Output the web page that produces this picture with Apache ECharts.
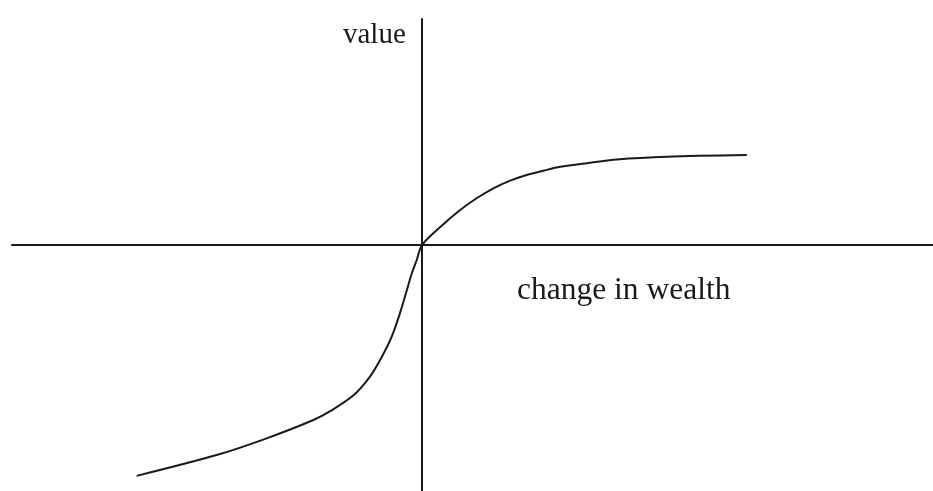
<!DOCTYPE html>
<html>
<head>
<meta charset="utf-8">
<script src="https://cdn.jsdelivr.net/npm/echarts@6/dist/echarts.min.js"></script>
<style>
    html, body { margin: 0; padding: 0; background: #fff; }
    #chart { width: 933px; height: 491px; }
</style>
</head>
<body>
<div id="chart"></div>
<script>
    // change in wealth (x) and value (y)
    var wealthChange = [-69.6, -50.1, -37.9, -26.5, -22.4, -16.8, -12.7, -9.8, -7.4, -5.4, -3.7, -2.5, -1.3, 0,
        5.2, 9.3, 13.3, 17.4, 21.5, 25.5, 29.6, 33.7, 41, 47.5, 59.7, 79.2];
    var valueOf = [-102.1, -92.9, -85.5, -77.4, -73.5, -66.6, -58.2, -49.4, -40.5, -30.2, -19.9, -12.5, -6.6, 0,
        9.2, 15.5, 20.7, 25.1, 28.5, 31, 32.9, 34.6, 36.4, 37.9, 39.1, 39.8];
    var xRange = [-100, 124.6];
    var yRange = [-108.8, 100];
    var xLabel = 'change in wealth';
    var yLabel = 'value';

    var points = wealthChange.map(function (x, i) {
        return [x, valueOf[i]];
    });

    var ink = '#1a1a1a',
        serif = '"Liberation Serif", "DejaVu Serif", serif';

    var chart = echarts.init(document.getElementById('chart'));
    chart.setOption({
        animation: false,
        grid: {
            left: 12,
            right: 0,
            top: 19,
            bottom: 0
        },
        xAxis: {
            type: 'value',
            min: xRange[0],
            max: xRange[1],
            axisLine: { onZero: true, lineStyle: { color: ink, width: 2 } },
            axisTick: { show: false },
            axisLabel: { show: false },
            splitLine: { show: false }
        },
        yAxis: {
            type: 'value',
            min: yRange[0],
            max: yRange[1],
            axisLine: { show: true, onZero: true, lineStyle: { color: ink, width: 2 } },
            axisTick: { show: false },
            axisLabel: { show: false },
            splitLine: { show: false }
        },
        graphic: [
            {
                type: 'text',
                left: 343,
                top: 21,
                style: { text: yLabel, font: '29px ' + serif, fill: ink }
            },
            {
                type: 'text',
                left: 517,
                top: 275,
                style: { text: xLabel, font: '31.5px ' + serif, fill: ink }
            }
        ],
        series: [
            {
                type: 'line',
                data: points,
                smooth: 0.3,
                showSymbol: false,
                lineStyle: { color: ink, width: 2 }
            }
        ]
    });
</script>
</body>
</html>
